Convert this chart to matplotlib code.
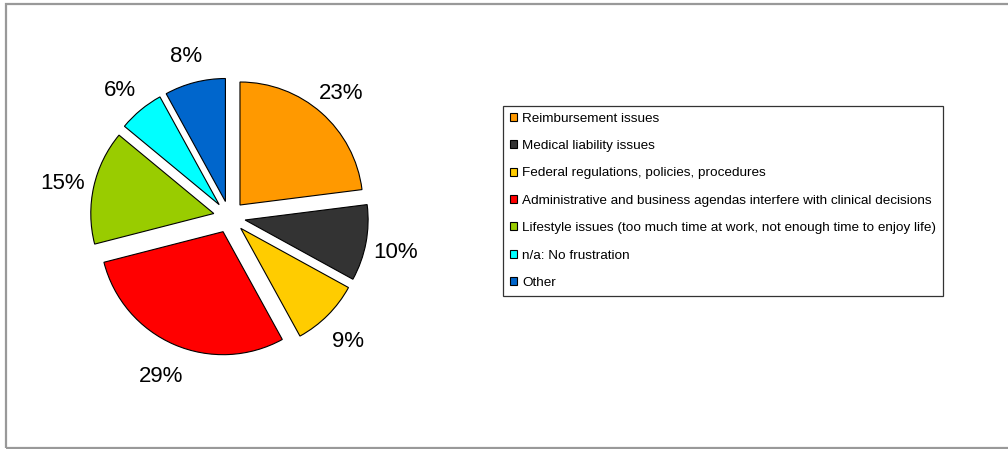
import matplotlib
matplotlib.use("Agg")
import matplotlib.pyplot as plt
from matplotlib.patches import Rectangle
import matplotlib.transforms as mtransforms

plt.rcParams['font.family'] = ['Liberation Sans', 'DejaVu Sans']

categories = [
    "Reimbursement issues",
    "Medical liability issues",
    "Federal regulations, policies, procedures",
    "Administrative and business agendas interfere with clinical decisions",
    "Lifestyle issues (too much time at work, not enough time to enjoy life)",
    "n/a: No frustration",
    "Other",
]
values = [23, 10, 9, 29, 15, 6, 8]
colors = ["#FF9900", "#333333", "#FFCC00", "#FF0000", "#99CC00", "#00FFFF", "#0066CC"]

W, H = 1008, 449
fig = plt.figure(figsize=(W / 100, H / 100), dpi=100)
fig.patch.set_facecolor("white")

# outer gray frame
fig.patches.append(Rectangle((5.5 / W, 1.5 / H), 1.2, 1 - 5 / H, transform=fig.transFigure,
                             fill=False, edgecolor="#999999", linewidth=1.6, figure=fig))

cx, cy, R, half = 229.4, 217.0, 123.0, 200.0
ax = fig.add_axes([(cx - half) / W, 1 - (cy + half) / H, 2 * half / W, 2 * half / H])
wedges, texts, autotexts = ax.pie(
    values, colors=colors, startangle=90, counterclock=False,
    explode=[0.13] * len(values), autopct='%.0f%%', pctdistance=1.25,
    wedgeprops=dict(edgecolor="black", linewidth=0.8),
    textprops=dict(fontsize=16, color="black"),
)
for t in autotexts:
    t.set_transform(mtransforms.offset_copy(t.get_transform(), fig=fig, x=-1, y=-4, units='dots'))
lim = half / R
ax.set_xlim(-lim, lim)
ax.set_ylim(-lim, lim)
ax.set_aspect('equal')
ax.axis('off')

leg = fig.legend(wedges, categories, loc='upper left',
                 bbox_to_anchor=(503 / W, 1 - 106 / H), borderaxespad=0,
                 fontsize=9.7, frameon=True, fancybox=False, shadow=False,
                 handlelength=0.52, handleheight=0.52, handletextpad=0.4,
                 labelspacing=1.14, borderpad=0.5)
leg.get_frame().set_edgecolor("black")
leg.get_frame().set_linewidth(0.9)

fig.savefig("out.png", dpi=100, facecolor="white")
